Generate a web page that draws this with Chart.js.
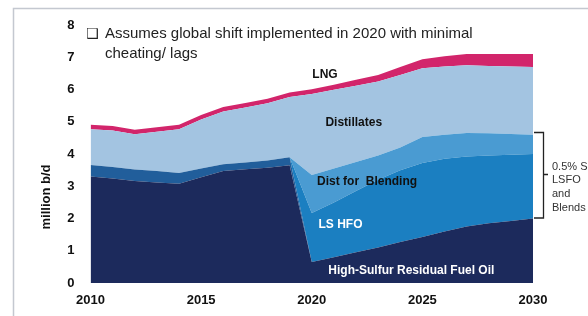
<!DOCTYPE html>
<html>
<head>
<meta charset="utf-8">
<script src="https://cdn.jsdelivr.net/npm/chart.js@4"></script>
<style>
  html, body { margin: 0; padding: 0; background: #fff; }
  #wrap { width: 588px; height: 316px; }
</style>
</head>
<body>
<div id="wrap"><canvas id="fuel-chart" width="588" height="316"></canvas></div>
<script>
const years = [2010, 2011, 2012, 2013, 2014, 2015, 2016, 2017, 2018, 2019, 2020,
               2021, 2022, 2023, 2024, 2025, 2026, 2027, 2028, 2029, 2030];
// stacked layers, million b/d
const hsfo        = [3.30, 3.24, 3.16, 3.12, 3.08, 3.28, 3.47, 3.53, 3.57, 3.65, 0.65,
                     0.80, 0.95, 1.10, 1.27, 1.43, 1.60, 1.75, 1.85, 1.92, 2.00];
const preLsfo     = [0.36, 0.36, 0.36, 0.35, 0.33, 0.27, 0.21, 0.21, 0.23, 0.25, 0,
                     0, 0, 0, 0, 0, 0, 0, 0, 0, 0];
const lsHfo       = [0, 0, 0, 0, 0, 0, 0, 0, 0, 0, 1.52,
                     1.70, 1.90, 2.10, 2.23, 2.29, 2.25, 2.17, 2.10, 2.06, 2.00];
const distBlend   = [0, 0, 0, 0, 0, 0, 0, 0, 0, 0, 1.18,
                     1.05, 0.90, 0.75, 0.70, 0.81, 0.75, 0.73, 0.69, 0.64, 0.60];
const distillates = [1.11, 1.13, 1.09, 1.22, 1.36, 1.52, 1.64, 1.70, 1.77, 1.87, 2.51,
                     2.44, 2.37, 2.30, 2.25, 2.13, 2.11, 2.10, 2.09, 2.09, 2.10];
const lng         = [0.14, 0.14, 0.14, 0.14, 0.14, 0.14, 0.14, 0.14, 0.14, 0.14, 0.15,
                     0.16, 0.18, 0.20, 0.25, 0.28, 0.32, 0.35, 0.37, 0.39, 0.40];
const xTicks = [2010, 2015, 2020, 2025, 2030];
const yTicks = [0, 1, 2, 3, 4, 5, 6, 7, 8];

const FONT = "'Liberation Sans', Arial, sans-serif";

function layer(label, values, color, fill) {
  return {
    label: label,
    data: years.map((y, i) => ({ x: y, y: values[i] })),
    backgroundColor: color,
    borderWidth: 0,
    pointRadius: 0,
    tension: 0,
    fill: fill,
  };
}

// frame and background
const framePlugin = {
  id: 'frame',
  beforeDraw(chart) {
    const c = chart.ctx;
    c.save();
    c.fillStyle = '#ffffff';
    c.fillRect(0, 0, chart.width, chart.height);
    c.strokeStyle = '#c4c8d0';
    c.lineWidth = 1.5;
    c.strokeRect(13.5, 8.5, 700, 400);
    c.restore();
  }
};

// in-chart labels, note, bracket and axis title
const textPlugin = {
  id: 'texts',
  afterDatasetsDraw(chart) {
    const c = chart.ctx;
    const xs = chart.scales.x, ys = chart.scales.y;
    const px = v => xs.getPixelForValue(v);
    const py = v => ys.getPixelForValue(v);
    c.save();
    c.textAlign = 'center';
    c.textBaseline = 'middle';
    c.font = 'bold 12px ' + FONT;
    c.fillStyle = '#111';
    c.fillText('LNG', px(2020.6), py(6.45));
    c.fillText('Distillates', px(2021.9), py(4.98));
    c.fillText('Dist for  Blending', px(2022.5), py(3.13));
    c.fillStyle = '#ffffff';
    c.fillText('LS HFO', px(2021.3), py(1.80));
    c.fillText('High-Sulfur Residual Fuel Oil', px(2024.5), py(0.38));

    // note at top
    c.textAlign = 'left';
    c.fillStyle = '#222';
    c.font = "14px 'DejaVu Sans', sans-serif";
    c.fillText('\u2751', 86, 34);
    c.font = '15px ' + FONT;
    c.fillText('Assumes global shift implemented in 2020 with minimal', 105, 34);
    c.fillText('cheating/ lags', 105, 54);

    // bracket on the right
    c.strokeStyle = '#222';
    c.lineWidth = 1.3;
    c.beginPath();
    c.moveTo(534, 132.5);
    c.lineTo(543.5, 132.5);
    c.lineTo(543.5, 218);
    c.lineTo(534, 218);
    c.moveTo(543.5, 174.5);
    c.lineTo(548, 174.5);
    c.stroke();
    c.fillStyle = '#333';
    c.font = '11px ' + FONT;
    c.fillText('0.5% S', 552, 167);
    c.fillText('LSFO', 552, 180);
    c.fillText('and', 552, 194);
    c.fillText('Blends', 552, 208);

    // y axis title
    c.translate(46, 197);
    c.rotate(-Math.PI / 2);
    c.textAlign = 'center';
    c.fillStyle = '#111';
    c.font = 'bold 13px ' + FONT;
    c.fillText('million b/d', 0, 0);
    c.restore();
  }
};

const config = {
  type: 'line',
  data: {
    datasets: [
      layer('High-Sulfur Residual Fuel Oil', hsfo, '#1c2a5c', 'origin'),
      layer('LSFO (pre-2020)', preLsfo, '#215e9b', '-1'),
      layer('LS HFO', lsHfo, '#1b7fc1', '-1'),
      layer('Dist for Blending', distBlend, '#4a9bd2', '-1'),
      layer('Distillates', distillates, '#a3c4e1', '-1'),
      layer('LNG', lng, '#d2256b', '-1'),
    ],
  },
  options: {
    responsive: false,
    animation: false,
    layout: { padding: { left: 40, right: 55, top: 25, bottom: 6 } },
    plugins: {
      legend: { display: false },
      tooltip: { enabled: false },
      title: { display: false },
    },
    scales: {
      x: {
        type: 'linear',
        min: 2010,
        max: 2030,
        grid: { display: false },
        border: { display: false },
        afterBuildTicks: scale => { scale.ticks = xTicks.map(v => ({ value: v })); },
        ticks: {
          callback: v => String(v),
          color: '#111',
          font: { family: FONT, size: 13, weight: 'bold' },
          maxRotation: 0,
          padding: 2,
        },
        afterFit: scale => { scale.height = 27; },
      },
      y: {
        stacked: true,
        min: 0,
        max: 8,
        grid: { display: false },
        border: { display: false },
        afterBuildTicks: scale => { scale.ticks = yTicks.map(v => ({ value: v })); },
        ticks: {
          color: '#111',
          font: { family: FONT, size: 13, weight: 'bold' },
          padding: 8,
        },
        afterFit: scale => { scale.width = 50.5; },
      },
    },
  },
  plugins: [framePlugin, textPlugin],
};

const canvas = document.getElementById('fuel-chart');
if (canvas) {
  const ctx = canvas.getContext('2d');
  window.fuelChart = new Chart(ctx, config);
}
</script>
</body>
</html>
